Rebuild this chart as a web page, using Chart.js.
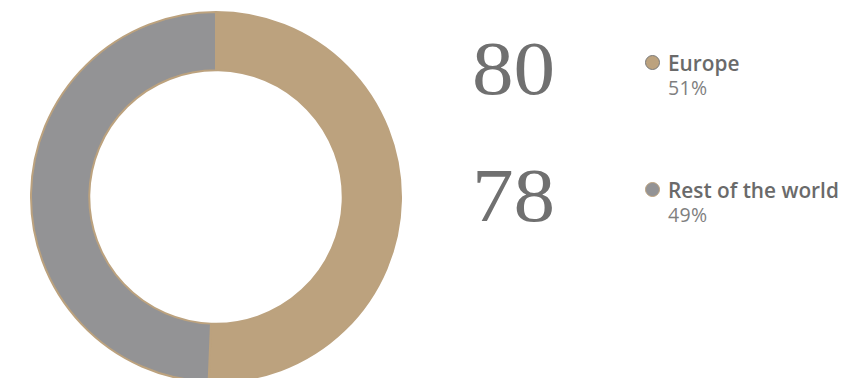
<!DOCTYPE html>
<html>
<head>
<meta charset="utf-8">
<script src="https://cdn.jsdelivr.net/npm/chart.js@4/dist/chart.umd.min.js"></script>
<style>
  html, body { margin: 0; padding: 0; background: #fff; width: 847px; height: 378px; overflow: hidden; }
  #wrap { position: relative; width: 847px; height: 378px; }
  #donut { position: absolute; left: 30px; top: 11px; width: 372px; height: 372px; }
  .big { position: absolute; font-family: "Liberation Serif", serif; font-size: 77px; line-height: 78px; color: #707070; transform: scaleX(1.08); transform-origin: left top; }
  .item { position: absolute; left: 645px; font-family: "Open Sans", sans-serif; }
  .dot { position: absolute; left: 0; width: 15px; height: 15px; border-radius: 50%; box-sizing: border-box; border: 1.5px solid; }
  .name { position: absolute; left: 23px; top: 0; font-size: 20.8px; font-weight: 600; color: #6a6a6a; white-space: nowrap; line-height: 24px; }
  .pct { position: absolute; left: 23px; top: 25.5px; font-size: 19.5px; font-weight: 400; color: #7f7f7f; white-space: nowrap; line-height: 22px; letter-spacing: 0.3px; }
</style>
</head>
<body>
<div id="wrap">
  <canvas id="donut" width="372" height="372"></canvas>
</div>
<script>
// Regional split of the total
const categories = ["Europe", "Rest of the world"];
const counts = [80, 78];
const fillColors = ["#bca27e", "#939395"];
const dotBorders = ["#7a7a7a", "#bca27e"];

const total = counts.reduce((a, b) => a + b, 0);

const chart = new Chart(document.getElementById("donut"), {
  type: "doughnut",
  data: {
    labels: categories,
    datasets: [{
      data: counts,
      backgroundColor: fillColors,
      borderColor: "#bca27e",
      borderWidth: 2,
      hoverOffset: 0
    }]
  },
  options: {
    responsive: false,
    animation: false,
    cutout: "68.5%",
    layout: { padding: 0 },
    events: [],
    plugins: {
      legend: { display: false },
      tooltip: { enabled: false }
    }
  }
});

// Big counts and legend entries, built from the same arrays
const wrap = document.getElementById("wrap");
const rowTops = [0, 127];
categories.forEach((name, i) => {
  const big = document.createElement("div");
  big.className = "big";
  big.style.left = "472px";
  big.style.top = (29 + rowTops[i]) + "px";
  big.textContent = String(counts[i]);
  wrap.appendChild(big);

  const item = document.createElement("div");
  item.className = "item";
  item.style.top = (51 + rowTops[i]) + "px";
  const dot = document.createElement("div");
  dot.className = "dot";
  dot.style.top = "3.5px";
  dot.style.background = fillColors[i];
  dot.style.borderColor = dotBorders[i];
  const label = document.createElement("div");
  label.className = "name";
  label.textContent = name;
  const pct = document.createElement("div");
  pct.className = "pct";
  pct.textContent = Math.round(counts[i] / total * 100) + "%";
  item.appendChild(dot);
  item.appendChild(label);
  item.appendChild(pct);
  wrap.appendChild(item);
});
</script>
</body>
</html>
